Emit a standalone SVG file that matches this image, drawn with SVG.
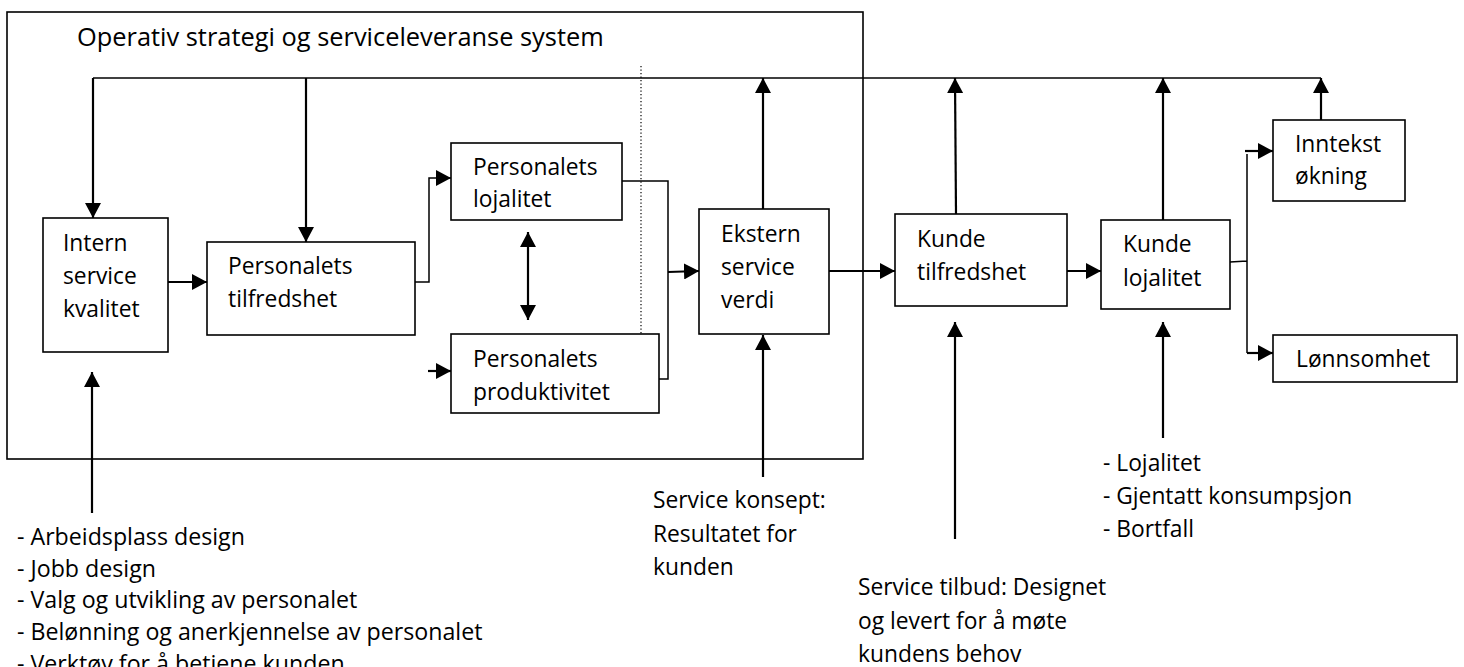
<svg xmlns="http://www.w3.org/2000/svg" width="1464" height="667" viewBox="0 0 1464 667">
<style>
text{font-family:"Open Sans","Noto Sans","Liberation Sans",sans-serif;font-size:22.8px;fill:#000}
.title{font-size:25.4px}
.bl{font-size:23.2px}
.box{fill:#fff;stroke:#000;stroke-width:1.6}
.frame{fill:none;stroke:#000;stroke-width:1.6}
.c{fill:none;stroke:#000;stroke-width:2.2}
.t{fill:none;stroke:#000;stroke-width:1.5}
.a{marker-end:url(#ah)}
.dot{fill:none;stroke:#000;stroke-width:1.2;stroke-dasharray:1.2 2.3}
</style>
<defs>
<marker id="ah" markerUnits="userSpaceOnUse" markerWidth="15" markerHeight="16" viewBox="0 0 15 16" refX="15" refY="8" orient="auto-start-reverse">
<path d="M0,0 L15,8 L0,16 z" fill="#000"/>
</marker>
</defs>
<rect class="frame" x="7" y="12" width="856" height="447"/>
<text class="title" x="77" y="46">Operativ strategi og serviceleveranse system</text>

<g id="connectors">
<path class="t" d="M93,78 H1321"/>
<path class="c a" d="M93,78 V218"/>
<path class="c a" d="M306,78 V242"/>
<path class="c a" d="M168,282 H207"/>
<path class="t a" d="M415,282 H429 V178 H451"/>
<path class="c" d="M528,232 V320" marker-start="url(#ah)" marker-end="url(#ah)"/>
<path class="c a" d="M428,371 H451"/>
<path class="t" d="M622,181 H668 V379 H659"/>
<path class="c a" d="M668,272 L699,271"/>
<path class="dot" d="M641,66 V334"/>
<path class="c a" d="M763,209 V78"/>
<path class="c a" d="M763,477 V335"/>
<path class="c a" d="M829,271 H895"/>
<path class="c a" d="M956,214 L955,78"/>
<path class="c a" d="M955,539 V322"/>
<path class="c a" d="M1067,271 H1101"/>
<path class="c a" d="M1163,220 V78"/>
<path class="c a" d="M1163,438 V322"/>
<path class="t" d="M1230,262 L1247,261 M1247,154 V353"/>
<path class="c a" d="M1245,151 H1273"/>
<path class="c a" d="M1247,353 H1273"/>
<path class="c a" d="M1321,120 V78"/>
<path class="c a" d="M92,513 V372"/>
</g>

<g id="intern">
<rect class="box" x="43" y="218" width="125" height="134"/>
<text x="63" y="251">Intern</text>
<text x="63" y="284">service</text>
<text x="63" y="317">kvalitet</text>
</g>
<g id="pers-tilfredshet">
<rect class="box" x="207" y="242" width="208" height="93"/>
<text x="228" y="274">Personalets</text>
<text x="228" y="307">tilfredshet</text>
</g>
<g id="pers-lojalitet">
<rect class="box" x="451" y="143" width="171" height="77"/>
<text x="473" y="175">Personalets</text>
<text x="473" y="207">lojalitet</text>
</g>
<g id="pers-produktivitet">
<rect class="box" x="451" y="334" width="208" height="79"/>
<text x="473" y="367">Personalets</text>
<text x="473" y="400">produktivitet</text>
</g>
<g id="ekstern">
<rect class="box" x="699" y="209" width="130" height="125"/>
<text x="721" y="242">Ekstern</text>
<text x="721" y="275">service</text>
<text x="721" y="308">verdi</text>
</g>
<g id="kunde-tilfredshet">
<rect class="box" x="895" y="214" width="172" height="92"/>
<text x="917" y="247">Kunde</text>
<text x="917" y="280">tilfredshet</text>
</g>
<g id="kunde-lojalitet">
<rect class="box" x="1101" y="220" width="129" height="89"/>
<text x="1123" y="252">Kunde</text>
<text x="1123" y="286">lojalitet</text>
</g>
<g id="inntekst">
<rect class="box" x="1273" y="120" width="132" height="81"/>
<text x="1295" y="152">Inntekst</text>
<text x="1295" y="184">økning</text>
</g>
<g id="lonnsomhet">
<rect class="box" x="1273" y="335" width="184" height="47"/>
<text x="1296" y="367">Lønnsomhet</text>
</g>

<g id="labels">
<text class="bl" x="17" y="545">- Arbeidsplass design</text>
<text class="bl" x="17" y="577">- Jobb design</text>
<text class="bl" x="17" y="608">- Valg og utvikling av personalet</text>
<text class="bl" x="17" y="640">- Belønning og anerkjennelse av personalet</text>
<text class="bl" x="17" y="672">- Verktøy for å betjene kunden</text>
<text x="653" y="508">Service konsept:</text>
<text x="653" y="542">Resultatet for</text>
<text x="653" y="575">kunden</text>
<text x="858" y="595">Service tilbud: Designet</text>
<text x="858" y="629">og levert for å møte</text>
<text x="858" y="662">kundens behov</text>
<text x="1103" y="471">- Lojalitet</text>
<text x="1103" y="504">- Gjentatt konsumpsjon</text>
<text x="1103" y="537">- Bortfall</text>
</g>
</svg>
